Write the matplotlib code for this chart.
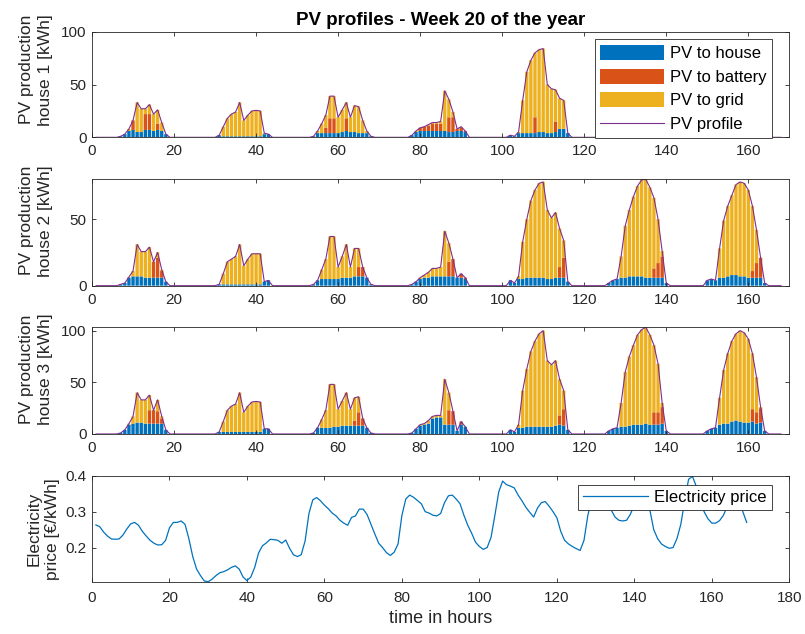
import numpy as np
import matplotlib.pyplot as plt

plt.rcParams['font.family'] = ['Liberation Sans', 'DejaVu Sans']

c_house = '#0072BD'
c_batt = '#D95319'
c_grid = '#EDB120'
c_prof = '#7E2F8E'
c_axis = '#262626'

hours = np.arange(1, 169)
# the daily lists below cover hours 6..20 of each day (kWh), night hours are zero
sun_hours = np.arange(6, 21)
zero_day = [0] * 15

# ---------- house 1 ----------
pv_1 = [
    [0, 1, 3, 8, 16, 33, 27, 27, 31, 22, 26, 14, 3, 0, 0],
    [0, 2, 10, 18, 22, 24, 33, 16, 21, 25, 25.5, 25, 4, 3, 0],
    [1, 6, 13, 21, 39, 39, 19, 26, 33, 19, 30, 29, 16, 6, 1],
    [2, 6, 9, 10, 12, 14, 14, 15, 44, 36, 24, 8, 10, 6, 0],
    [2, 1, 5, 35, 62, 73, 80, 83, 84, 50, 46, 45, 37, 35, 4],
    zero_day,
    zero_day,
]
house_1 = [
    [0, 1, 3, 6, 7, 5, 5, 7, 7, 6, 7, 6, 3, 0, 0],
    [0, 2, 1, 1, 1, 1, 1, 1, 1, 1, 1, 1, 3, 3, 0],
    [1, 4, 4, 4, 4, 4, 4, 5, 6, 5, 5, 4, 4, 4, 1],
    [2, 5, 6, 6, 6, 6, 6, 6, 6, 5, 5, 6, 6, 5, 0],
    [2, 1, 4, 4, 4, 4, 4, 5, 5, 4, 4, 5, 8, 8, 4],
    zero_day,
    zero_day,
]
batt_1 = [
    [0, 0, 0, 0, 9, 0, 0, 15, 15, 0, 6, 0, 0, 0, 0],
    zero_day,
    [0, 0, 0, 5, 14, 14, 0, 0, 12, 0, 0, 0, 0, 0, 0],
    [0, 0, 3, 4, 5, 7, 7, 7, 0, 14, 14, 2, 3, 1, 0],
    [0, 0, 0, 0, 0, 0, 15, 0, 0, 0, 0, 10, 0, 0, 0],
    zero_day,
    zero_day,
]

# ---------- house 2 ----------
pv_2 = [
    [0, 1, 2, 6.5, 11, 31, 25.6, 25.6, 29, 18, 25, 12, 3, 0, 0],
    [0, 1, 9, 18, 20, 22, 31, 15, 20, 24, 24, 24, 3, 4, 0],
    [1, 4, 12, 20, 37, 37, 14, 22, 31, 14, 28, 28, 14, 6, 1],
    [1, 3, 6, 8, 10, 13, 13, 14, 41, 32, 20, 6, 9, 6, 0],
    [4, 2, 7, 33, 50, 64, 72, 77, 78, 57, 51, 55, 43, 34, 3],
    [2, 4, 5, 22, 45, 57, 67, 75, 79.5, 80, 74, 66, 50, 26, 2],
    [4, 5, 4, 28, 49, 60, 68, 76, 78, 77, 72, 60, 42, 21, 2],
]
house_2 = [
    [0, 1, 2, 6, 7, 7, 7, 6, 6, 6, 6, 6, 3, 0, 0],
    [0, 1, 1, 1, 1, 1, 1, 1, 1, 1, 1, 1, 3, 4, 0],
    [1, 4, 5, 5, 5, 5, 5, 6, 6, 6, 7, 7, 7, 6, 1],
    [1, 3, 5, 6, 6, 7, 7, 7, 7, 7, 7, 6, 6, 5, 0],
    [4, 2, 5, 5, 6, 6, 6, 6, 6, 5, 5, 6, 6, 6, 3],
    [2, 4, 5, 6, 6, 7, 7, 7, 7, 6, 6, 6, 6, 6, 2],
    [4, 5, 4, 6, 6, 7, 8, 8, 7, 7, 6, 6, 6, 6, 2],
]
batt_2 = [
    [0, 0, 0, 0, 0, 0, 0, 0, 0, 12, 15, 5, 0, 0, 0],
    zero_day,
    [0, 0, 0, 0, 0, 0, 0, 0, 0, 0, 0, 7, 7, 0, 0],
    [0, 0, 0, 0, 0, 0, 0, 0, 0, 11, 13, 0, 3, 1, 0],
    [0, 0, 0, 0, 0, 0, 0, 0, 0, 0, 0, 0, 8, 15, 0],
    [0, 0, 0, 0, 0, 0, 0, 0, 0, 0, 0, 7, 11, 16, 0],
    [0, 0, 0, 0, 0, 0, 0, 0, 0, 0, 0, 5, 11, 15, 0],
]

# ---------- house 3 ----------
pv_3 = [
    [0, 1, 4, 10, 17, 40, 33, 33, 37.6, 23, 33, 17, 4, 0, 0],
    [0, 2, 12, 23, 27, 29, 40, 21, 27, 31, 31.5, 31, 5, 5, 0],
    [1, 6, 14, 23, 48, 48, 24, 32, 40, 24, 35, 36, 15, 6, 1],
    [1, 5, 9, 10, 13, 17, 18, 18, 53, 40, 22, 3, 12, 7, 0],
    [4, 2, 9, 42, 63, 80, 90, 97, 100, 71, 67, 71, 53, 42, 4],
    [3, 5, 6, 30, 60, 75, 86, 96, 101, 103.3, 96, 86, 68, 30, 3],
    [3, 5, 6, 35, 62, 78, 90, 97, 100, 98, 92, 78, 55, 26, 3],
]
house_3 = [
    [0, 1, 4, 9, 10, 11, 11, 10, 10, 10, 10, 10, 4, 0, 0],
    [0, 2, 2, 2, 2, 2, 2, 2, 2, 2, 2, 2, 5, 5, 0],
    [1, 6, 6, 6, 6, 7, 7, 8, 8, 8, 8, 8, 8, 6, 1],
    [1, 5, 8, 9, 10, 15, 16, 16, 9, 9, 9, 3, 9, 7, 0],
    [4, 2, 6, 6, 7, 7, 7, 7, 7, 7, 7, 8, 9, 8, 4],
    [3, 5, 6, 7, 7, 8, 9, 9, 9, 10, 9, 9, 9, 10, 3],
    [3, 5, 6, 9, 10, 10, 12, 13, 12, 11, 11, 12, 10, 11, 3],
]
batt_3 = [
    [0, 0, 0, 0, 0, 0, 0, 0, 13, 13, 12, 5, 0, 0, 0],
    zero_day,
    [0, 0, 0, 0, 0, 0, 0, 0, 0, 0, 5, 13, 7, 0, 0],
    [0, 0, 0, 0, 0, 0, 0, 0, 0, 14, 13, 0, 3, 0, 0],
    [0, 0, 0, 0, 0, 0, 0, 0, 0, 0, 0, 0, 9, 16, 0],
    [0, 0, 0, 0, 0, 0, 0, 0, 0, 0, 0, 12, 12, 16, 0],
    [0, 0, 0, 0, 0, 0, 0, 0, 0, 0, 0, 12, 11, 14, 0],
]

# electricity price, hours 1..169 (EUR/kWh)
price = [
    0.263, 0.258, 0.243, 0.232, 0.224, 0.223, 0.224, 0.235, 0.252, 0.266,
    0.270, 0.262, 0.245, 0.232, 0.220, 0.212, 0.207, 0.208, 0.220, 0.255,
    0.270, 0.270, 0.274, 0.265, 0.225, 0.175, 0.140, 0.122, 0.107, 0.105,
    0.112, 0.122, 0.130, 0.133, 0.138, 0.145, 0.149, 0.140, 0.118, 0.108,
    0.118, 0.145, 0.185, 0.205, 0.213, 0.223, 0.222, 0.220, 0.212, 0.221,
    0.198, 0.180, 0.175, 0.180, 0.218, 0.295, 0.333, 0.339, 0.330, 0.318,
    0.308, 0.296, 0.288, 0.276, 0.268, 0.262, 0.284, 0.288, 0.307, 0.307,
    0.292, 0.265, 0.238, 0.212, 0.200, 0.186, 0.178, 0.187, 0.210, 0.290,
    0.335, 0.346, 0.340, 0.331, 0.322, 0.300, 0.296, 0.290, 0.288, 0.295,
    0.325, 0.344, 0.346, 0.335, 0.322, 0.290, 0.262, 0.240, 0.215, 0.203,
    0.195, 0.200, 0.228, 0.290, 0.355, 0.385, 0.375, 0.371, 0.366, 0.346,
    0.330, 0.312, 0.298, 0.285, 0.310, 0.325, 0.328, 0.315, 0.300, 0.283,
    0.245, 0.220, 0.210, 0.203, 0.197, 0.192, 0.220, 0.290, 0.335, 0.352,
    0.360, 0.350, 0.330, 0.305, 0.285, 0.276, 0.274, 0.276, 0.293, 0.320,
    0.345, 0.358, 0.350, 0.305, 0.250, 0.225, 0.210, 0.203, 0.198, 0.200,
    0.225, 0.265, 0.330, 0.390, 0.398, 0.370, 0.330, 0.300, 0.280, 0.268,
    0.268, 0.275, 0.290, 0.315, 0.330, 0.335, 0.325, 0.300, 0.270,
]
price_hours = np.arange(1, len(price) + 1)


def week(days):
    out = np.zeros(168)
    for d, vals in enumerate(days):
        out[24 * d + sun_hours - 1] = vals
    return out


def style_axes(ax, label_pad):
    for s in ax.spines.values():
        s.set_linewidth(0.6)
        s.set_color(c_axis)
    ax.tick_params(direction='in', top=True, right=True, length=3.2, width=0.6,
                   colors=c_axis, labelsize=11, pad=4)
    ax.tick_params(axis='x', pad=label_pad)


fig = plt.figure(figsize=(8.05, 6.34), dpi=100)
left, width = 0.1143, 0.8662
boxes = [(0.7834, 0.1666), (0.5494, 0.1678), (0.3155, 0.1683), (0.0825, 0.1672)]
axes = [fig.add_axes([left, b, width, h]) for b, h in boxes]

houses = [(pv_1, house_1, batt_1), (pv_2, house_2, batt_2), (pv_3, house_3, batt_3)]
ylims = [100, 80, 103.3]
yticks = [[0, 50, 100], [0, 50], [0, 50, 100]]
label_y = [0.64, 0.61, 0.61]

legend_items = None
for i, (ax, (pv_d, use_d, bat_d)) in enumerate(zip(axes[:3], houses)):
    pv = week(pv_d)
    to_house = week(use_d)
    to_batt = week(bat_d)
    to_grid = np.clip(pv - to_house - to_batt, 0, None)

    bar_kw = dict(width=0.82, linewidth=0, snap=False)
    b1 = ax.bar(hours, to_house, color=c_house, **bar_kw)
    b2 = ax.bar(hours, to_batt, bottom=to_house, color=c_batt, **bar_kw)
    b3 = ax.bar(hours, to_grid, bottom=to_house + to_batt, color=c_grid, **bar_kw)
    ln, = ax.plot(hours, pv, color=c_prof, lw=0.8)
    if legend_items is None:
        legend_items = [b1, b2, b3, ln]

    ax.set_xlim(0, 170)
    ax.set_xticks(np.arange(0, 161, 20))
    ax.set_ylim(0, ylims[i])
    ax.set_yticks(yticks[i])
    style_axes(ax, 5)
    ax.set_ylabel('PV production\nhouse %d [kWh]' % (i + 1), fontsize=12.5,
                  linespacing=1.3, color=c_axis)
    ax.yaxis.set_label_coords(-0.056, label_y[i])

ax1 = axes[0]
ax1.set_title('PV profiles - Week 20 of the year', fontsize=13.5, fontweight='bold',
              pad=4.8, color='black')
leg = ax1.legend(legend_items, ['PV to house', 'PV to battery', 'PV to grid', 'PV profile'],
                 loc='upper right', bbox_to_anchor=(0.975, 0.928), borderaxespad=0,
                 fontsize=12, handlelength=3.8, handleheight=1.0, handletextpad=0.36,
                 labelspacing=0.45, borderpad=0.34, fancybox=False,
                 edgecolor=c_axis, framealpha=1)
leg.get_frame().set_linewidth(0.6)

# electricity price
ax4 = axes[3]
ax4.plot(price_hours, price, color=c_house, lw=0.9, label='Electricity price')
ax4.set_xlim(0, 180)
ax4.set_xticks(np.arange(0, 181, 20))
ax4.set_ylim(min(price), 0.4)
ax4.set_yticks([0.2, 0.3, 0.4])
ax4.set_yticklabels(['0.2', '0.3', '0.4'])
style_axes(ax4, 7)
ax4.set_ylabel('Electricity\nprice [€/kWh]', fontsize=12.5, linespacing=1.3, color=c_axis)
ax4.yaxis.set_label_coords(-0.046, 0.5)
ax4.set_xlabel('time in hours', fontsize=13, color=c_axis)
ax4.xaxis.set_label_coords(0.5, -0.265)
leg4 = ax4.legend(loc='upper right', bbox_to_anchor=(0.975, 0.912), borderaxespad=0,
                  fontsize=12, handlelength=3.9, handletextpad=0.36, borderpad=0.3,
                  fancybox=False, edgecolor=c_axis, framealpha=1)
leg4.get_frame().set_linewidth(0.6)

fig.savefig('out.png', dpi=100)
